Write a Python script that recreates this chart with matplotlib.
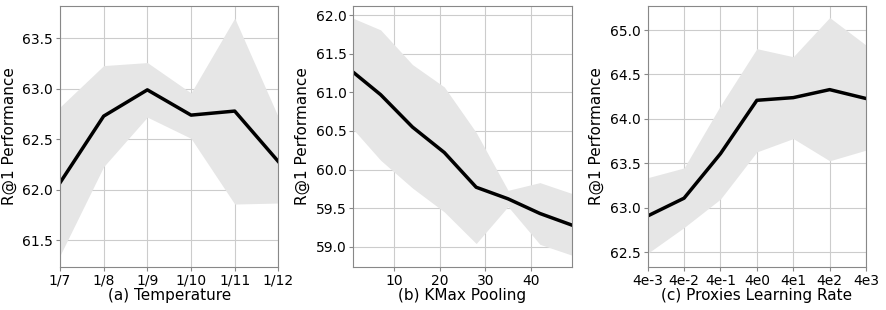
import matplotlib
matplotlib.use("Agg")
import matplotlib.pyplot as plt

# (a) Temperature
temp_labels = ["1/7", "1/8", "1/9", "1/10", "1/11", "1/12"]
temp_mean = [62.07, 62.73, 62.99, 62.74, 62.78, 62.28]
temp_upper = [62.82, 63.23, 63.26, 62.96, 63.70, 62.72]
temp_lower = [61.35, 62.23, 62.72, 62.51, 61.86, 61.87]

# (b) KMax Pooling
kmax_x = [1, 7, 14, 21, 28, 35, 42, 49]
kmax_mean = [61.26, 60.97, 60.55, 60.22, 59.77, 59.62, 59.43, 59.28]
kmax_upper = [61.96, 61.81, 61.36, 61.07, 60.48, 59.73, 59.83, 59.69]
kmax_lower = [60.52, 60.12, 59.76, 59.45, 59.04, 59.52, 59.03, 58.89]

# (c) Proxies Learning Rate
lr_labels = ["4e-3", "4e-2", "4e-1", "4e0", "4e1", "4e2", "4e3"]
lr_mean = [62.91, 63.11, 63.61, 64.21, 64.24, 64.33, 64.23]
lr_upper = [63.34, 63.45, 64.15, 64.79, 64.70, 65.14, 64.83]
lr_lower = [62.49, 62.78, 63.10, 63.63, 63.78, 63.53, 63.65]

fig = plt.figure(figsize=(8.86, 3.1), dpi=100)
lefts = [0.0677, 0.3988, 0.731]
axes = [fig.add_axes([l, 0.1397, 0.2465, 0.841]) for l in lefts]


def style(ax, xlabel):
    ax.grid(True, color="#cccccc", linewidth=0.8)
    ax.set_axisbelow(True)
    for s in ax.spines.values():
        s.set_color("#888888")
    ax.tick_params(labelsize=10, length=3, color="#888888", pad=2)
    ax.set_ylabel("R@1 Performance", fontsize=11, labelpad=4)
    ax.set_xlabel(xlabel, fontsize=11, labelpad=0)


# panel a
ax = axes[0]
xa = range(len(temp_labels))
ax.fill_between(xa, temp_lower, temp_upper, color="#e6e6e6", linewidth=0)
ax.plot(xa, temp_mean, color="black", linewidth=2.5)
ax.set_xticks(list(xa))
ax.set_xticklabels(temp_labels)
ax.set_xlim(0, len(temp_labels) - 1)
ax.set_ylim(61.24, 63.82)
ax.set_yticks([61.5, 62.0, 62.5, 63.0, 63.5])
style(ax, "(a) Temperature")

# panel b
ax = axes[1]
ax.fill_between(kmax_x, kmax_lower, kmax_upper, color="#e6e6e6", linewidth=0)
ax.plot(kmax_x, kmax_mean, color="black", linewidth=2.5)
ax.set_xticks([10, 20, 30, 40])
ax.set_xlim(1, 49)
ax.set_ylim(58.74, 62.12)
ax.set_yticks([59.0, 59.5, 60.0, 60.5, 61.0, 61.5, 62.0])
style(ax, "(b) KMax Pooling")

# panel c
ax = axes[2]
xc = range(len(lr_labels))
ax.fill_between(xc, lr_lower, lr_upper, color="#e6e6e6", linewidth=0)
ax.plot(xc, lr_mean, color="black", linewidth=2.5)
ax.set_xticks(list(xc))
ax.set_xticklabels(lr_labels)
ax.set_xlim(0, len(lr_labels) - 1)
ax.set_ylim(62.34, 65.27)
ax.set_yticks([62.5, 63.0, 63.5, 64.0, 64.5, 65.0])
style(ax, "(c) Proxies Learning Rate")

fig.savefig("out.png", dpi=100)
